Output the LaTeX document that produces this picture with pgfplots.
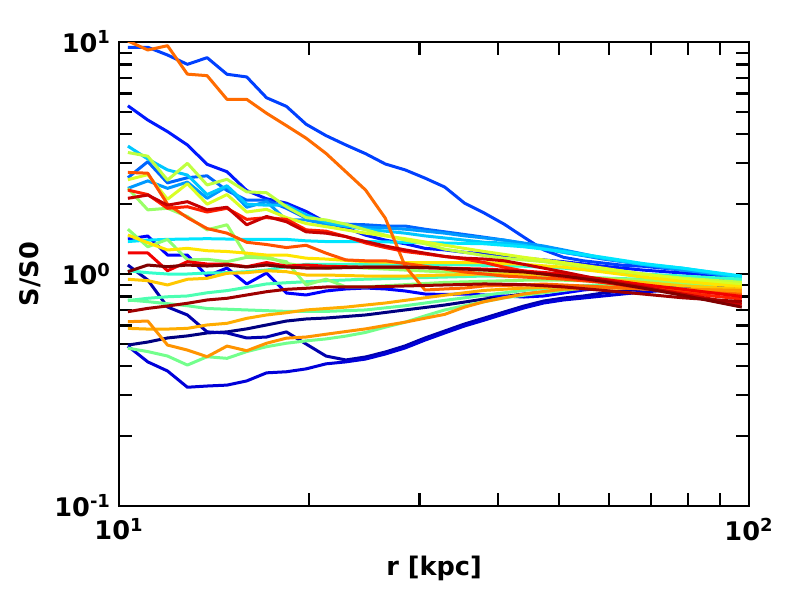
\documentclass[border=0pt]{standalone}
\usepackage{fontspec}
\setmainfont{DejaVu Sans}
\usepackage{pgfplots}
\pgfplotsset{compat=1.18}

\begin{document}
\begin{tikzpicture}
\begin{axis}[
  scale only axis, width=315pt, height=232pt,
  xmode=log, ymode=log,
  xmin=10, xmax=100, ymin=0.1, ymax=10,
  axis line style={line width=1.25pt},
  tick style={line width=1.1pt, black},
  major tick length=6.5pt, minor tick length=6.5pt,
  tick align=inside,
  xtick={10,100}, xticklabels={10\textsuperscript{1},10\textsuperscript{2}},
  ytick={0.1,1,10}, yticklabels={10\textsuperscript{-1},10\textsuperscript{0},10\textsuperscript{1}},
  minor xtick={20,30,40,50,60,70,80,90},
  minor ytick={0.2,0.3,0.4,0.5,0.6,0.7,0.8,0.9,2,3,4,5,6,7,8,9},
  ticklabel style={font=\bfseries\fontsize{12.8}{14}\selectfont},
  xticklabel style={yshift=-2.5pt},
  yticklabel style={xshift=-0.5pt},
  label style={font=\bfseries\fontsize{12.8}{15}\selectfont},
  xlabel style={yshift=-1pt},
  xlabel={r [kpc]}, ylabel={S/S0},
  every axis plot/.append style={line width=1.5pt, line join=round},
]
% profiles, drawn in colour-map order (blue first, dark red last)
\addplot[color={rgb,1:red,0;green,0;blue,0.5}] coordinates {(10.33,0.494)(11.11,0.509)(11.94,0.530)(12.84,0.541)(13.80,0.557)(14.84,0.563)(15.95,0.580)(17.15,0.603)(18.44,0.627)(19.82,0.640)(21.31,0.646)(24.63,0.666)(28.46,0.700)(32.89,0.735)(38.02,0.780)(43.94,0.820)(50.78,0.853)(58.68,0.879)(67.83,0.906)(78.39,0.933)(97.40,0.961)};
\addplot[color={rgb,1:red,0;green,0;blue,0.68}] coordinates {(10.33,1.093)(11.11,0.942)(11.94,0.721)(12.84,0.666)(13.80,0.563)(14.84,0.557)(15.95,0.530)(17.15,0.535)(18.44,0.563)(19.82,0.499)(21.31,0.443)(22.91,0.426)(24.63,0.439)(26.47,0.461)(28.46,0.490)(30.60,0.530)(32.89,0.568)(35.36,0.609)(38.02,0.646)(40.87,0.686)(43.94,0.728)(47.23,0.765)(50.78,0.788)(54.59,0.804)(58.68,0.828)(67.83,0.862)(78.39,0.888)(97.40,0.914)};
\addplot[color={rgb,1:red,0;green,0;blue,0.85}] coordinates {(10.33,0.489)(11.11,0.418)(11.94,0.382)(12.84,0.325)(13.80,0.329)(14.84,0.332)(15.95,0.346)(17.15,0.375)(18.44,0.379)(19.82,0.390)(21.31,0.410)(22.91,0.418)(24.63,0.430)(26.47,0.452)(28.46,0.480)(30.60,0.519)(32.89,0.557)(35.36,0.597)(38.02,0.633)(40.87,0.673)(43.94,0.714)(47.23,0.750)(50.78,0.773)(54.59,0.788)(58.68,0.804)(67.83,0.836)(78.39,0.862)(97.40,0.888)};
\addplot[color={rgb,1:red,0;green,0;blue,1}] coordinates {(10.33,1.415)(11.11,1.458)(11.94,1.207)(12.84,1.207)(13.80,0.980)(14.84,1.061)(15.95,0.906)(17.15,1.010)(18.44,0.828)(19.82,0.812)(21.31,0.845)(22.91,0.862)(24.63,0.870)(26.47,0.862)(28.46,0.845)(30.60,0.820)(32.89,0.816)(35.36,0.820)(38.02,0.812)(40.87,0.804)(43.94,0.796)(47.23,0.804)(50.78,0.828)(54.59,0.853)(58.68,0.870)(67.83,0.897)(78.39,0.914)(97.40,0.942)};
\addplot[color={rgb,1:red,0;green,0.1;blue,1}] coordinates {(10.33,5.31)(11.11,4.61)(11.94,4.11)(12.84,3.60)(13.80,2.97)(14.84,2.76)(15.95,2.29)(17.15,2.11)(18.44,2.02)(19.82,1.86)(21.31,1.67)(22.91,1.58)(24.63,1.47)(26.47,1.40)(28.46,1.35)(30.60,1.29)(32.89,1.27)(35.36,1.24)(38.02,1.22)(43.94,1.17)(50.78,1.13)(58.68,1.08)(67.83,1.04)(78.39,1.01)(97.40,0.97)};
\addplot[color={rgb,1:red,0;green,0.25;blue,1}] coordinates {(10.33,9.49)(11.11,9.49)(11.94,8.79)(12.84,8.01)(13.80,8.56)(14.84,7.26)(15.95,7.07)(17.15,5.75)(18.44,5.28)(19.82,4.42)(21.31,3.95)(22.91,3.60)(24.63,3.30)(26.47,2.98)(28.46,2.81)(30.60,2.59)(32.89,2.37)(35.36,2.02)(38.02,1.83)(40.87,1.64)(43.94,1.44)(47.23,1.27)(50.78,1.18)(54.59,1.14)(58.68,1.115)(63.10,1.09)(67.83,1.08)(72.92,1.06)(78.39,1.04)(84.27,1.02)(90.60,1.00)(97.40,0.97)};
\addplot[color={rgb,1:red,0;green,0.4;blue,1}] coordinates {(10.33,2.60)(11.11,3.05)(11.94,2.47)(12.84,2.60)(13.80,2.65)(14.84,2.29)(15.95,2.08)(17.15,2.08)(18.44,1.92)(19.82,1.74)(21.31,1.67)(22.91,1.64)(24.63,1.63)(26.47,1.61)(28.46,1.61)(30.60,1.56)(32.89,1.52)(35.36,1.48)(38.02,1.44)(40.87,1.40)(43.94,1.35)(47.23,1.29)(50.78,1.24)(54.59,1.20)(58.68,1.16)(67.83,1.10)(78.39,1.05)(97.40,0.96)};
\addplot[color={rgb,1:red,0;green,0.6;blue,1}] coordinates {(10.33,2.34)(11.11,2.52)(11.94,2.34)(12.84,2.49)(13.80,2.12)(14.84,2.38)(15.95,1.94)(17.15,2.05)(18.44,1.71)(19.82,1.71)(21.31,1.64)(22.91,1.61)(24.63,1.59)(26.47,1.58)(28.46,1.56)(30.60,1.53)(32.89,1.50)(35.36,1.46)(38.02,1.43)(40.87,1.40)(43.94,1.36)(47.23,1.32)(50.78,1.27)(54.59,1.22)(58.68,1.17)(67.83,1.10)(78.39,1.04)(97.40,0.97)};
\addplot[color={rgb,1:red,0;green,0.78;blue,1}] coordinates {(10.33,3.56)(11.11,3.13)(11.94,2.81)(12.84,2.67)(13.80,2.20)(14.84,2.40)(15.95,2.00)(17.15,1.98)(18.44,1.98)(19.82,1.80)(21.31,1.67)(22.91,1.61)(24.63,1.56)(26.47,1.53)(28.46,1.50)(30.60,1.46)(32.89,1.43)(35.36,1.40)(38.02,1.37)(40.87,1.36)(43.94,1.33)(50.78,1.24)(58.68,1.17)(67.83,1.10)(78.39,1.06)(97.40,0.97)};
\addplot[color={rgb,1:red,0;green,0.9;blue,1}] coordinates {(10.33,1.38)(11.11,1.40)(11.94,1.41)(13.80,1.42)(15.95,1.41)(18.44,1.41)(19.82,1.39)(21.31,1.38)(24.63,1.38)(28.46,1.37)(32.89,1.36)(38.02,1.35)(43.94,1.31)(50.78,1.25)(58.68,1.18)(67.83,1.11)(78.39,1.06)(97.40,0.98)};
\addplot[color={rgb,1:red,0.2;green,1;blue,0.8}] coordinates {(10.33,1.033)(11.11,1.013)(11.94,1.000)(12.84,1.000)(13.80,1.010)(14.84,1.013)(15.95,1.023)(17.15,1.040)(18.44,1.075)(19.82,1.100)(21.31,1.100)(24.63,1.100)(28.46,1.100)(32.89,1.100)(38.02,1.090)(43.94,1.080)(50.78,1.060)(58.68,1.030)(67.83,1.000)(78.39,0.980)(97.40,0.950)};
\addplot[color={rgb,1:red,0.3;green,1;blue,0.7}] coordinates {(10.33,0.768)(11.11,0.786)(11.94,0.798)(12.84,0.804)(13.80,0.830)(14.84,0.848)(15.95,0.876)(17.15,0.906)(18.44,0.917)(19.82,0.926)(21.31,0.935)(24.63,0.950)(28.46,0.960)(32.89,0.970)(38.02,0.980)(43.94,0.980)(50.78,0.970)(58.68,0.960)(67.83,0.950)(78.39,0.940)(97.40,0.930)};
\addplot[color={rgb,1:red,0.4;green,1;blue,0.6}] coordinates {(10.33,0.773)(11.11,0.760)(11.94,0.745)(12.84,0.730)(13.80,0.710)(14.84,0.705)(15.95,0.700)(17.15,0.695)(18.44,0.690)(19.82,0.690)(21.31,0.690)(24.63,0.700)(28.46,0.730)(32.89,0.770)(38.02,0.810)(43.94,0.850)(50.78,0.880)(58.68,0.900)(67.83,0.900)(78.39,0.900)(97.40,0.900)};
\addplot[color={rgb,1:red,0.45;green,1;blue,0.55}] coordinates {(10.33,0.479)(11.11,0.463)(11.94,0.443)(12.84,0.405)(13.80,0.440)(14.84,0.433)(15.95,0.463)(17.15,0.486)(18.44,0.503)(19.82,0.515)(21.31,0.525)(22.91,0.540)(24.63,0.560)(26.47,0.590)(28.46,0.620)(30.60,0.660)(32.89,0.700)(35.36,0.730)(38.02,0.760)(40.87,0.790)(43.94,0.810)(47.23,0.830)(50.78,0.850)(54.59,0.870)(58.68,0.880)(67.83,0.890)(78.39,0.900)(97.40,0.900)};
\addplot[color={rgb,1:red,0.55;green,1;blue,0.45}] coordinates {(10.33,1.56)(11.11,1.31)(11.94,1.41)(12.84,1.15)(13.80,1.157)(14.84,1.13)(15.95,1.18)(17.15,1.17)(18.44,1.13)(19.82,0.897)(21.31,0.95)(22.91,0.88)(24.63,0.88)(26.47,0.89)(28.46,0.90)(30.60,0.91)(32.89,0.92)(38.02,0.93)(43.94,0.94)(50.78,0.94)(58.68,0.93)(67.83,0.92)(78.39,0.91)(97.40,0.90)};
\addplot[color={rgb,1:red,0.6;green,1;blue,0.4}] coordinates {(10.33,2.34)(11.11,1.89)(11.94,1.92)(12.84,1.77)(13.80,1.55)(14.84,1.63)(15.95,1.19)(17.15,1.19)(18.44,1.11)(19.82,1.08)(21.31,1.06)(22.91,1.07)(24.63,1.06)(28.46,1.04)(32.89,1.02)(38.02,1.01)(43.94,1.00)(50.78,0.98)(58.68,0.96)(67.83,0.94)(78.39,0.92)(97.40,0.92)};
\addplot[color={rgb,1:red,0.75;green,1;blue,0.25}] coordinates {(10.33,3.34)(11.11,3.22)(11.94,2.54)(12.84,3.00)(13.80,2.42)(14.84,2.56)(15.95,2.26)(17.15,2.24)(18.44,1.95)(19.82,1.75)(21.31,1.71)(22.91,1.64)(24.63,1.55)(26.47,1.47)(28.46,1.40)(30.60,1.35)(32.89,1.28)(35.36,1.24)(38.02,1.20)(40.87,1.17)(43.94,1.15)(47.23,1.13)(50.78,1.10)(58.68,1.05)(67.83,1.00)(78.39,0.96)(97.40,0.92)};
\addplot[color={rgb,1:red,0.85;green,1;blue,0.15}] coordinates {(10.33,2.55)(11.11,2.68)(11.94,2.10)(12.84,2.45)(13.80,2.00)(14.84,2.20)(15.95,1.85)(17.15,1.90)(18.44,1.75)(19.82,1.65)(21.31,1.60)(24.63,1.50)(28.46,1.42)(32.89,1.33)(38.02,1.25)(43.94,1.18)(50.78,1.12)(58.68,1.06)(67.83,1.00)(78.39,0.95)(97.40,0.90)};
\addplot[color={rgb,1:red,1;green,0.9;blue,0}] coordinates {(10.33,1.473)(11.11,1.364)(11.94,1.269)(12.84,1.290)(13.80,1.260)(14.84,1.250)(15.95,1.230)(17.15,1.207)(18.44,1.207)(19.82,1.170)(21.31,1.160)(24.63,1.130)(28.46,1.120)(32.89,1.120)(38.02,1.120)(43.94,1.100)(50.78,1.070)(58.68,1.020)(67.83,0.970)(78.39,0.930)(97.40,0.880)};
\addplot[color={rgb,1:red,1;green,0.78;blue,0}] coordinates {(10.33,0.949)(11.11,0.936)(11.94,0.897)(12.84,0.949)(13.80,0.958)(14.84,1.007)(15.95,1.013)(17.15,1.033)(18.44,1.023)(19.82,0.990)(21.31,0.990)(24.63,0.980)(28.46,0.980)(32.89,0.990)(38.02,1.000)(43.94,1.000)(50.78,0.980)(58.68,0.950)(67.83,0.920)(78.39,0.890)(97.40,0.860)};
\addplot[color={rgb,1:red,1;green,0.68;blue,0}] coordinates {(10.33,0.583)(11.11,0.579)(11.94,0.579)(12.84,0.583)(13.80,0.603)(14.84,0.613)(15.95,0.644)(17.15,0.666)(18.44,0.681)(19.82,0.700)(21.31,0.710)(22.91,0.720)(24.63,0.735)(26.47,0.750)(28.46,0.770)(30.60,0.790)(32.89,0.810)(35.36,0.830)(38.02,0.850)(40.87,0.860)(43.94,0.870)(50.78,0.880)(58.68,0.880)(67.83,0.870)(78.39,0.860)(97.40,0.840)};
\addplot[color={rgb,1:red,1;green,0.58;blue,0}] coordinates {(10.33,0.623)(11.11,0.627)(11.94,0.494)(12.84,0.470)(13.80,0.440)(14.84,0.489)(15.95,0.467)(17.15,0.503)(18.44,0.529)(19.82,0.535)(21.31,0.550)(22.91,0.565)(24.63,0.580)(26.47,0.600)(28.46,0.620)(30.60,0.645)(32.89,0.670)(35.36,0.720)(38.02,0.760)(40.87,0.790)(43.94,0.820)(47.23,0.840)(50.78,0.860)(58.68,0.870)(67.83,0.870)(78.39,0.860)(97.40,0.850)};
\addplot[color={rgb,1:red,1;green,0.42;blue,0}] coordinates {(10.33,10.1)(11.11,9.24)(11.94,9.64)(12.84,7.27)(13.80,7.16)(14.84,5.66)(15.95,5.66)(17.15,4.93)(18.44,4.36)(19.82,3.85)(21.31,3.31)(22.91,2.76)(24.63,2.30)(26.47,1.74)(28.46,1.08)(30.60,0.853)(32.89,0.862)(35.36,0.870)(38.02,0.888)(43.94,0.897)(47.23,0.905)(54.59,0.888)(63.10,0.870)(72.92,0.853)(84.27,0.835)(97.40,0.820)};
\addplot[color={rgb,1:red,1;green,0.32;blue,0}] coordinates {(10.33,2.74)(11.11,2.72)(11.94,2.00)(12.84,1.75)(13.80,1.57)(14.84,1.50)(15.95,1.37)(17.15,1.34)(18.44,1.30)(19.82,1.33)(21.31,1.23)(22.91,1.15)(24.63,1.14)(26.47,1.14)(28.46,1.11)(30.60,1.08)(32.89,1.05)(35.36,1.02)(38.02,1.00)(40.87,0.98)(43.94,0.97)(50.78,0.95)(58.68,0.92)(67.83,0.88)(78.39,0.85)(97.40,0.81)};
\addplot[color={rgb,1:red,1;green,0.12;blue,0}] coordinates {(10.33,2.30)(11.11,2.20)(11.94,1.92)(12.84,1.95)(13.80,1.85)(14.84,1.92)(15.95,1.72)(17.15,1.75)(18.44,1.72)(19.82,1.55)(21.31,1.53)(22.91,1.45)(24.63,1.36)(26.47,1.30)(28.46,1.25)(30.60,1.22)(32.89,1.19)(35.36,1.16)(38.02,1.12)(40.87,1.07)(43.94,1.03)(47.23,1.00)(50.78,0.97)(58.68,0.92)(67.83,0.87)(78.39,0.83)(97.40,0.78)};
\addplot[color={rgb,1:red,0.95;green,0;blue,0}] coordinates {(10.33,1.232)(11.11,1.232)(11.94,1.033)(12.84,1.130)(13.80,1.104)(14.84,1.104)(15.95,1.075)(17.15,1.120)(18.44,1.082)(19.82,1.093)(21.31,1.080)(24.63,1.070)(28.46,1.070)(32.89,1.060)(38.02,1.050)(43.94,1.030)(50.78,1.000)(58.68,0.950)(67.83,0.900)(78.39,0.860)(97.40,0.800)};
\addplot[color={rgb,1:red,0.78;green,0;blue,0}] coordinates {(10.33,2.12)(11.11,2.19)(11.94,1.98)(12.84,2.05)(13.80,1.89)(14.84,1.94)(15.95,1.63)(17.15,1.77)(18.44,1.68)(19.82,1.52)(21.31,1.50)(22.91,1.45)(24.63,1.38)(26.47,1.32)(28.46,1.27)(30.60,1.23)(32.89,1.19)(35.36,1.17)(38.02,1.16)(40.87,1.14)(43.94,1.10)(47.23,1.06)(50.78,1.02)(54.59,0.98)(58.68,0.94)(67.83,0.88)(78.39,0.82)(97.40,0.74)};
\addplot[color={rgb,1:red,0.62;green,0;blue,0}] coordinates {(10.33,0.688)(11.11,0.711)(11.94,0.728)(12.84,0.748)(13.80,0.773)(14.84,0.786)(15.95,0.812)(17.15,0.839)(18.44,0.859)(19.82,0.868)(21.31,0.879)(24.63,0.879)(28.46,0.888)(32.89,0.897)(38.02,0.906)(43.94,0.900)(50.78,0.880)(58.68,0.850)(67.83,0.820)(78.39,0.790)(97.40,0.760)};
\addplot[color={rgb,1:red,0.5;green,0;blue,0}] coordinates {(10.33,1.023)(11.11,1.093)(11.94,1.075)(12.84,1.093)(13.80,1.082)(14.84,1.093)(15.95,1.072)(17.15,1.093)(18.44,1.072)(19.82,1.061)(21.31,1.060)(24.63,1.070)(28.46,1.070)(32.89,1.060)(38.02,1.040)(43.94,1.020)(50.78,0.980)(58.68,0.930)(67.83,0.870)(78.39,0.810)(97.40,0.720)};
\end{axis}
\pgfresetboundingbox
\path (-59.5pt,-47pt) rectangle (340.5pt,253pt);
\end{tikzpicture}
\end{document}
